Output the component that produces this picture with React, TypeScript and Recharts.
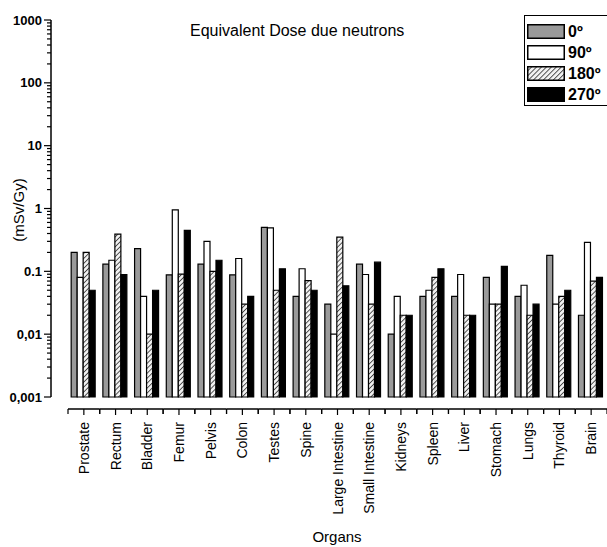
import React from 'react'
import { BarChart, Bar, XAxis, YAxis } from 'recharts'

const organs = [
  'Prostate', 'Rectum', 'Bladder', 'Femur', 'Pelvis', 'Colon', 'Testes', 'Spine',
  'Large Intestine', 'Small Intestine', 'Kidneys', 'Spleen', 'Liver', 'Stomach',
  'Lungs', 'Thyroid', 'Brain',
]
const dose0 = [0.2, 0.13, 0.23, 0.088, 0.13, 0.088, 0.5, 0.04, 0.03, 0.13, 0.01, 0.04, 0.04, 0.08, 0.04, 0.18, 0.02]
const dose90 = [0.08, 0.15, 0.04, 0.95, 0.3, 0.16, 0.49, 0.11, 0.01, 0.089, 0.04, 0.05, 0.089, 0.03, 0.06, 0.03, 0.29]
const dose180 = [0.2, 0.39, 0.01, 0.09, 0.1, 0.03, 0.05, 0.071, 0.35, 0.03, 0.02, 0.08, 0.02, 0.03, 0.02, 0.04, 0.07]
const dose270 = [0.05, 0.089, 0.05, 0.45, 0.15, 0.04, 0.11, 0.05, 0.059, 0.14, 0.02, 0.11, 0.02, 0.12, 0.03, 0.05, 0.08]

const majorTicks = [0.001, 0.01, 0.1, 1, 10, 100, 1000]
const majorLabels = ['0,001', '0,01', '0.1', '1', '10', '100', '1000']

const series = [
  { key: 'a0', name: '0º', values: dose0, fill: '#9a9a9a' },
  { key: 'a90', name: '90º', values: dose90, fill: '#ffffff' },
  { key: 'a180', name: '180º', values: dose180, fill: 'url(#hatch)' },
  { key: 'a270', name: '270º', values: dose270, fill: '#000000' },
]

const data = organs.map((organ, i) => {
  const row: Record<string, any> = { organ }
  series.forEach((s) => (row[s.key] = s.values[i]))
  return row
})

// minor log ticks 2..9 in every decade
const allTicks: number[] = []
majorTicks.forEach((m, i) => {
  allTicks.push(m)
  if (i < majorTicks.length - 1) for (let k = 2; k < 10; k++) allTicks.push(m * k)
})

const FONT = '"Liberation Sans", Arial, sans-serif'

function DoseTick(props: any) {
  const { x, y, payload } = props
  const i = majorTicks.findIndex((t) => Math.abs(Math.log10(t) - Math.log10(payload.value)) < 1e-6)
  const major = i >= 0
  return (
    <g>
      <line x1={x} x2={x - (major ? 7 : 4)} y1={y} y2={y} stroke="#000" strokeWidth={1.2} />
      {major && (
        <text x={x - 9} y={y} dy="0.35em" textAnchor="end" fontSize={13} fontWeight="bold" fontFamily={FONT} fill="#000">
          {majorLabels[i]}
        </text>
      )}
    </g>
  )
}

function OrganTick(props: any) {
  const { x, y, payload } = props
  const half = payload.offset || 15.85
  const ly = y + 12
  return (
    <g>
      <line x1={x - half} x2={x + half} y1={ly} y2={ly} stroke="#000" strokeWidth={1.5} />
      <line x1={x} x2={x} y1={ly} y2={ly + 6} stroke="#000" strokeWidth={1.2} />
      <line x1={x - half} x2={x - half} y1={ly} y2={ly + 5} stroke="#000" strokeWidth={1.2} />
      <line x1={x + half} x2={x + half} y1={ly} y2={ly + 5} stroke="#000" strokeWidth={1.2} />
      <text
        transform={`translate(${x + 5},${ly + 13}) rotate(-90)`}
        textAnchor="end"
        fontSize={14}
        fontFamily={FONT}
        fill="#000"
      >
        {payload.value}
      </text>
    </g>
  )
}

function Swatch({ fill }: { fill: string }) {
  return (
    <svg width={38} height={15} style={{ display: 'block' }}>
      <rect x={0.75} y={0.75} width={36.5} height={13.5} fill={fill} stroke="#000" strokeWidth={1.5} />
    </svg>
  )
}

export default function App() {
  return (
    <div style={{ position: 'absolute', left: 0, top: 0, width: 607, height: 547, overflow: 'hidden', background: '#fff', fontFamily: FONT }}>
      <svg width={0} height={0} style={{ position: 'absolute' }}>
        <defs>
          <pattern id="hatch" patternUnits="userSpaceOnUse" width={3.5} height={3.5} patternTransform="rotate(45)">
            <rect width={3.5} height={3.5} fill="#f2f2f2" />
            <line x1={0} y1={0} x2={0} y2={3.5} stroke="#444" strokeWidth={1.8} />
          </pattern>
        </defs>
      </svg>

      <BarChart
        width={607}
        height={547}
        data={data}
        margin={{ top: 20, right: 0, left: 0, bottom: 0 }}
        barCategoryGap="10%"
        barGap={0}
      >
        <XAxis
          dataKey="organ"
          height={150}
          padding={{ left: 17, right: 0 }}
          axisLine={false}
          tickLine={false}
          tickSize={0}
          tickMargin={0}
          interval={0}
          tick={<OrganTick />}
        />
        <YAxis
          width={51}
          type="number"
          scale="log"
          domain={[0.001, 1000]}
          ticks={allTicks}
          interval={0}
          axisLine={{ stroke: '#000', strokeWidth: 1.5 }}
          tickLine={false}
          tickSize={0}
          tickMargin={0}
          tick={<DoseTick />}
        />
        {series.map((s) => (
          <Bar key={s.key} dataKey={s.key} name={s.name} fill={s.fill} stroke="#000" strokeWidth={1.2} isAnimationActive={false} />
        ))}
      </BarChart>

      <div style={{ position: 'absolute', left: 0, top: 22, width: 607, textAlign: 'center', fontSize: 16, paddingLeft: 0 }}>
        <span style={{ position: 'absolute', left: 190, whiteSpace: 'nowrap' }}>Equivalent Dose due neutrons</span>
      </div>

      <svg width={607} height={547} style={{ position: 'absolute', left: 0, top: 0, pointerEvents: 'none' }}>
        <text transform="translate(24,210) rotate(-90)" textAnchor="middle" fontSize={15} fontFamily={FONT} fill="#000">
          (mSv/Gy)
        </text>
        <text x={337} y={542} textAnchor="middle" fontSize={15} fontFamily={FONT} fill="#000">
          Organs
        </text>
      </svg>

      <div
        style={{
          position: 'absolute',
          left: 524,
          top: 15,
          width: 100,
          height: 91,
          border: '1.5px solid #000',
          boxSizing: 'border-box',
          padding: '5px 0 0 2px',
          background: '#fff',
        }}
      >
        {series.map((s) => (
          <div key={s.key} style={{ display: 'flex', alignItems: 'center', height: 21 }}>
            <Swatch fill={s.fill} />
            <span style={{ marginLeft: 3, fontSize: 16, fontWeight: 'bold', lineHeight: '16px' }}>{s.name}</span>
          </div>
        ))}
      </div>
    </div>
  )
}
